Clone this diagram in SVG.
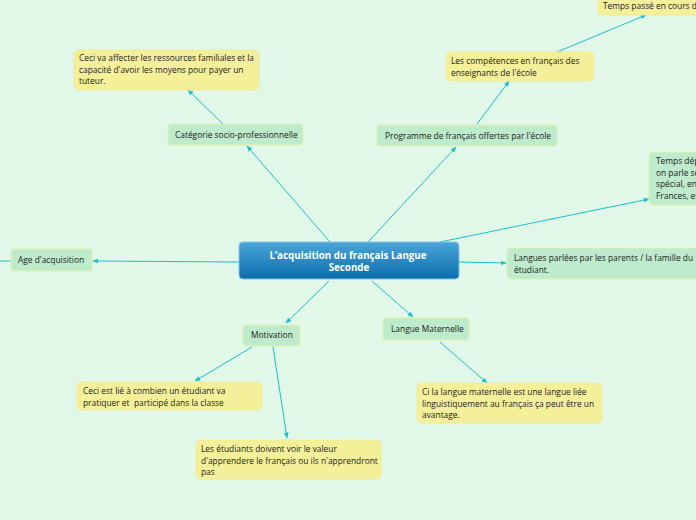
<svg xmlns="http://www.w3.org/2000/svg" width="696" height="520" viewBox="0 0 696 520">
<defs>
<linearGradient id="cg" x1="0" y1="0" x2="0" y2="1">
<stop offset="0" stop-color="#4ba5d8"/>
<stop offset="1" stop-color="#0a6dab"/>
</linearGradient>
<marker id="ah" viewBox="0 0 10 10" refX="9" refY="5" markerWidth="6" markerHeight="6" orient="auto" markerUnits="userSpaceOnUse">
<path d="M0,1 L10,5 L0,9 z" fill="#1cc0cc"/>
</marker>
<style>
.t{font-family:"Open Sans","Noto Sans","DejaVu Sans",sans-serif;font-size:8.4px;fill:#222222;white-space:pre}
.g{fill:#bdebcb;stroke:#e3f0b0;stroke-width:1}
.y{fill:#f4f09a;stroke:#efeb96;stroke-width:1}
.c{stroke:#1cc0cc;stroke-width:1;fill:none}
.ca{stroke:#1cc0cc;stroke-width:1;fill:none;marker-end:url(#ah)}
.ct{font-family:"Open Sans","Noto Sans","DejaVu Sans",sans-serif;font-size:9.8px;font-weight:bold;fill:#ffffff;text-anchor:middle}
</style>
</defs>
<rect width="696" height="520" fill="#e1f7e7"/>
<g id="connectors">
<line class="ca" x1="330" y1="242" x2="247" y2="146"/>
<line class="ca" x1="223" y1="124" x2="188" y2="90"/>
<line class="ca" x1="368" y1="242" x2="456" y2="147"/>
<line class="ca" x1="477" y1="124" x2="509" y2="81"/>
<line class="ca" x1="557" y1="52" x2="646" y2="15"/>
<line class="ca" x1="440" y1="242" x2="649" y2="199"/>
<line class="ca" x1="459" y1="262" x2="506" y2="263"/>
<line class="ca" x1="239" y1="262" x2="93" y2="261"/>
<line class="c" x1="0" y1="261" x2="11" y2="261"/>
<line class="ca" x1="329" y1="281" x2="286" y2="323"/>
<line class="ca" x1="372" y1="281" x2="413" y2="317"/>
<line class="ca" x1="252" y1="347" x2="195" y2="381"/>
<line class="ca" x1="273" y1="347" x2="287" y2="438"/>
<line class="ca" x1="440" y1="342" x2="487" y2="383"/>
</g>
<g id="center">
<rect x="239" y="242" width="220" height="37" rx="4" fill="url(#cg)" stroke="#83c3e8" stroke-width="1"/>
<text class="ct" x="348" y="259">L’acquisition du français Langue</text>
<text class="ct" x="349" y="271">Seconde</text>
</g>
<g id="categorie">
<rect class="g" x="168" y="124" width="135" height="21" rx="3"/>
<text class="t" x="175" y="138">Catégorie socio-professionnelle</text>
</g>
<g id="ressources">
<rect class="y" x="74" y="50" width="185" height="40" rx="5"/>
<text class="t" x="79" y="61">Ceci va affecter les ressources familiales et la</text>
<text class="t" x="79" y="72.5">capacité d'avoir les moyens pour payer un</text>
<text class="t" x="79" y="84">tuteur.</text>
</g>
<g id="programme">
<rect class="g" x="377" y="125" width="180" height="21" rx="3"/>
<text class="t" x="385" y="139">Programme de français offertes par l'école</text>
</g>
<g id="competences">
<rect class="y" x="446" y="52" width="148" height="29" rx="5"/>
<text class="t" x="451" y="64">Les compétences en français des</text>
<text class="t" x="451" y="75.5">enseignants de l'école</text>
</g>
<g id="temps-passe">
<rect class="y" x="598" y="-10" width="110" height="25" rx="4"/>
<text class="t" x="603" y="9">Temps passé en cours de</text>
</g>
<g id="temps-dep">
<rect class="g" x="649" y="152" width="60" height="53" rx="4"/>
<text class="t" x="656" y="164">Temps dép</text>
<text class="t" x="656" y="175.5">on parle se</text>
<text class="t" x="656" y="187">spécial, en</text>
<text class="t" x="656" y="198.5">Frances, et</text>
</g>
<g id="langues">
<rect class="g" x="507" y="248" width="200" height="31" rx="4"/>
<text class="t" x="514" y="261">Langues parlées par les parents / la famille du</text>
<text class="t" x="514" y="272.5">étudiant.</text>
</g>
<g id="age">
<rect class="g" x="11" y="249" width="81" height="22" rx="3"/>
<text class="t" x="18" y="263">Age d'acquisition</text>
</g>
<g id="motivation">
<rect class="g" x="243" y="325" width="57" height="21" rx="3"/>
<text class="t" x="251" y="338">Motivation</text>
</g>
<g id="pratiquer">
<rect class="y" x="77" y="382" width="185" height="28" rx="5"/>
<text class="t" x="83" y="394">Ceci est lié à combien un étudiant va</text>
<text class="t" x="83" y="405.5">pratiquer et  participé dans la classe</text>
</g>
<g id="valeur">
<rect class="y" x="196" y="440" width="185" height="39" rx="5"/>
<text class="t" x="201" y="452">Les étudiants doivent voir le valeur</text>
<text class="t" x="201" y="463.5">d'apprendere le français ou ils n'apprendront</text>
<text class="t" x="201" y="475">pas</text>
</g>
<g id="maternelle">
<rect class="g" x="383" y="318" width="86" height="22" rx="3"/>
<text class="t" x="391" y="332">Langue Maternelle</text>
</g>
<g id="avantage">
<rect class="y" x="417" y="383" width="185" height="40" rx="5"/>
<text class="t" x="422" y="395">Ci la langue maternelle est une langue liée</text>
<text class="t" x="422" y="406.5">linguistiquement au français ça peut être un</text>
<text class="t" x="422" y="418">avantage.</text>
</g>
</svg>
